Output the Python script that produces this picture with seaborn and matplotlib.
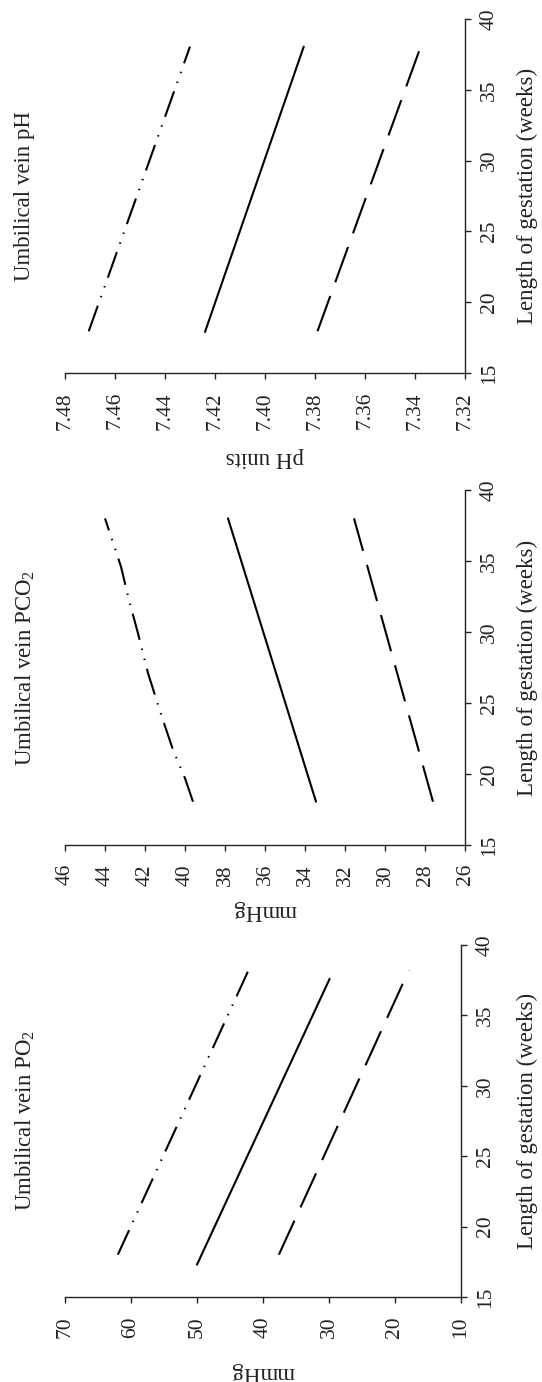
import numpy as np
import pandas as pd
import matplotlib
matplotlib.use("Agg")
import matplotlib.pyplot as plt
import seaborn as sns

# ---------------- data ----------------
gest_ticks = [15, 20, 25, 30, 35, 40]

# Umbilical vein PO2 (mmHg)
po2_upper_weeks = [18.0, 38.2]
po2_upper = [62.0, 42.2]
po2_mid_weeks = [17.3, 37.6]
po2_mid = [50.0, 29.9]
po2_lower_weeks = [18.0, 38.2]
po2_lower = [37.6, 17.9]
po2_ticks = [70, 60, 50, 40, 30, 20, 10]

# Umbilical vein PCO2 (mmHg)
pco2_upper_weeks = [18.05, 19.7, 21.7, 24.0, 27.1, 29.9, 32.25, 34.6, 38.0]
pco2_upper = [39.6, 40.0, 40.6, 41.15, 41.85, 42.35, 42.8, 43.2, 44.0]
pco2_mid_weeks = [18.05, 38.0]
pco2_mid = [33.45, 37.85]
pco2_lower_weeks = [18.05, 38.0]
pco2_lower = [27.6, 31.55]
pco2_ticks = [46, 44, 42, 40, 38, 36, 34, 32, 30, 28, 26]

# Umbilical vein pH (pH units)
ph_upper_weeks = [17.95, 38.05]
ph_upper = [7.4705, 7.4300]
ph_mid_weeks = [17.9, 38.05]
ph_mid = [7.4240, 7.3845]
ph_lower_weeks = [17.95, 38.4]
ph_lower = [7.3790, 7.3370]
ph_ticks = [7.48, 7.46, 7.44, 7.42, 7.40, 7.38, 7.36, 7.34, 7.32]

# ---------------- style ----------------
sns.set_theme(style="white")
plt.rcParams["font.family"] = ["Liberation Serif", "DejaVu Serif"]
plt.rcParams["mathtext.fontset"] = "custom"
plt.rcParams["mathtext.rm"] = "Liberation Serif"
plt.rcParams["mathtext.it"] = "Liberation Serif:italic"

LW = 1.5
INK = "#222222"
dash_map = {"upper": (13, 4.3, 0.7, 4.3, 0.7, 4.3),
            "mid": "",
            "lower": (18, 7)}

fig = plt.figure(figsize=(5.42, 13.82), dpi=100)
W, H = 542.0, 1382.0
AX_LEFT = 65

panels = [
    # (top px, bottom px, right px, data, ticks, fmt, xlabel, xlabel centre px, title)
    (19, 373, 465, (ph_upper_weeks, ph_upper, ph_mid_weeks, ph_mid, ph_lower_weeks, ph_lower),
     ph_ticks, "{:.2f}", "pH units", 457, "Umbilical vein pH"),
    (490, 845, 465, (pco2_upper_weeks, pco2_upper, pco2_mid_weeks, pco2_mid, pco2_lower_weeks, pco2_lower),
     pco2_ticks, "{:d}", "mmHg", 911, "Umbilical vein PCO$\\mathregular{_2}$"),
    (945, 1297, 461, (po2_upper_weeks, po2_upper, po2_mid_weeks, po2_mid, po2_lower_weeks, po2_lower),
     po2_ticks, "{:d}", "mmHg", 1372, "Umbilical vein PO$\\mathregular{_2}$"),
]

for top, bot, right, d, ticks, fmt, xlabel, xl_y, title in panels:
    wpx = right - AX_LEFT
    hpx = bot - top
    ax = fig.add_axes([AX_LEFT / W, 1 - bot / H, wpx / W, hpx / H])
    uw, uv, mw, mv, lw_, lv = d
    df = pd.concat([
        pd.DataFrame({"week": uw, "value": uv, "curve": "upper"}),
        pd.DataFrame({"week": mw, "value": mv, "curve": "mid"}),
        pd.DataFrame({"week": lw_, "value": lv, "curve": "lower"}),
    ], ignore_index=True)
    sns.lineplot(data=df, x="value", y="week", style="curve", units="curve",
                 estimator=None, sort=False, orient="y", dashes=dash_map,
                 color="black", linewidth=LW, legend=False, ax=ax)

    ax.set_xlim(ticks[0], ticks[-1])
    ax.set_ylim(15, 40)
    ax.set_xticks(ticks)
    ax.set_xticklabels([fmt.format(t) for t in ticks])
    ax.set_yticks(gest_ticks)
    ax.set_yticklabels([str(t) for t in gest_ticks])
    ax.yaxis.tick_right()
    ax.yaxis.set_label_position("right")
    for s in ["top", "left"]:
        ax.spines[s].set_visible(False)
    for s in ["bottom", "right"]:
        ax.spines[s].set_linewidth(1.0)
        ax.spines[s].set_color(INK)
    ax.tick_params(axis="x", bottom=True, direction="out", length=4.3, width=1.0,
                   labelsize=15.5, labelrotation=90, pad=9.4, colors=INK)
    ax.tick_params(axis="y", right=True, left=False, direction="out", length=4.1, width=1.0,
                   labelsize=15.5, labelrotation=90, pad=6.5, colors=INK)
    for lab in ax.get_yticklabels():
        lab.set_va("center")
    ax.set_xlabel(xlabel, rotation=180, fontsize=16.5, color=INK)
    ax.xaxis.set_label_coords(0.5, -(xl_y - bot) / hpx)
    ax.xaxis.label.set_va("center")
    ax.set_ylabel("Length of gestation (weeks)", rotation=90, fontsize=16.5, color=INK)
    ax.yaxis.label.set_va("center")
    ax.yaxis.label.set_ha("center")
    ax.yaxis.set_label_coords((527 - AX_LEFT) / wpx, 0.5)
    ax.text((25 - AX_LEFT) / wpx, 0.5, title, rotation=90, transform=ax.transAxes,
            ha="center", va="center", fontsize=16.5, color=INK)
    ax.grid(False)

fig.savefig("out.png", dpi=100)
